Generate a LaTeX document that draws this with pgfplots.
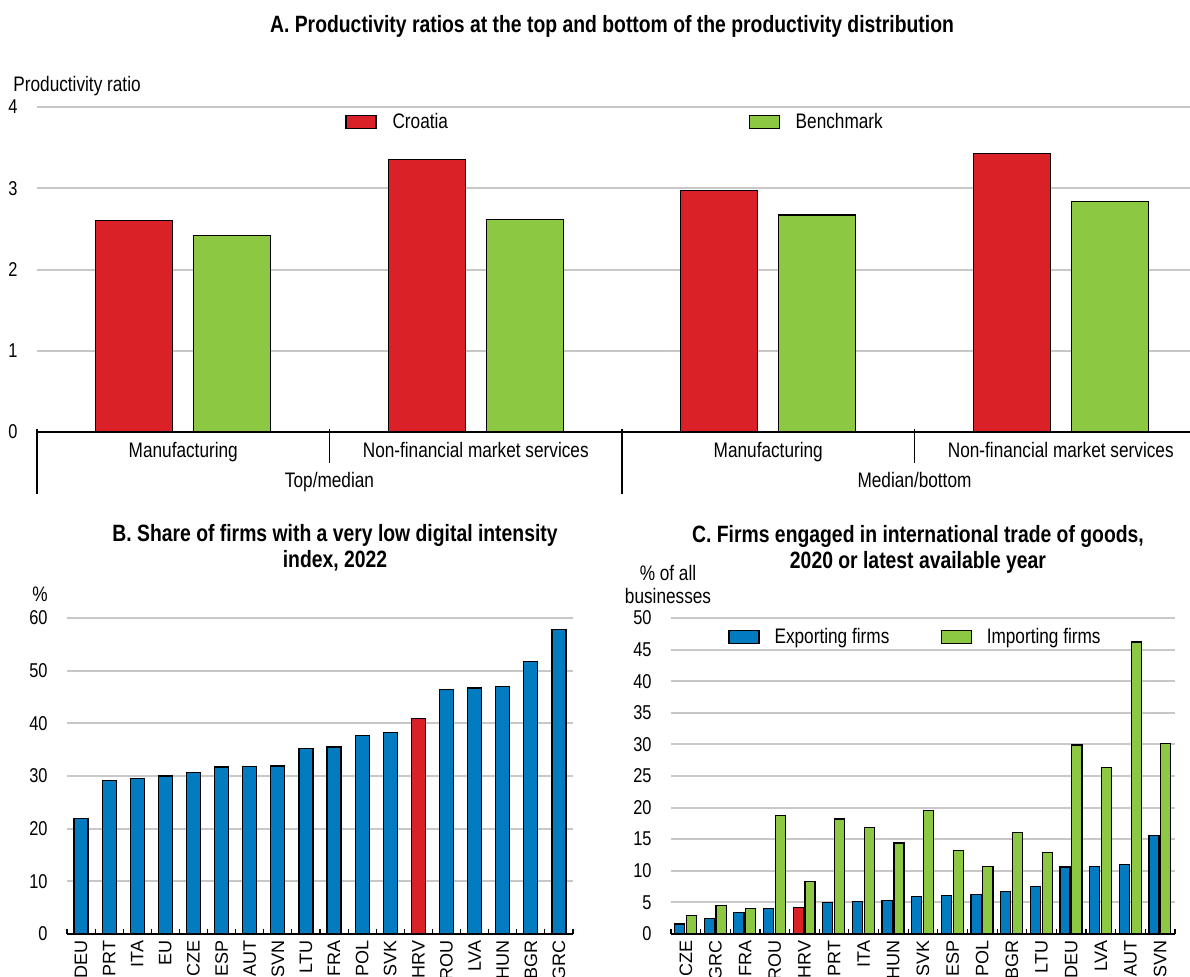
\documentclass[border=0pt]{standalone}
\usepackage{fontspec}
\setmainfont{Liberation Sans}[FakeStretch=0.82]
\newfontfamily\wide{Liberation Sans}
\usepackage{pgfplots}
\pgfplotsset{compat=1.18}

\definecolor{hrred}{RGB}{218,33,40}
\definecolor{bmgreen}{RGB}{140,200,65}
\definecolor{oblue}{RGB}{3,123,193}
\definecolor{gridgrey}{RGB}{200,200,200}

\newcommand\fs{\fontsize{10.5pt}{12.6pt}\selectfont}
\newcommand\ts{\bfseries\fontsize{11.8pt}{14pt}\selectfont}

\pgfplotsset{
  panel/.style={
    scale only axis, anchor=south west,
    axis lines*=left,
    y axis line style={draw=none},
    x axis line style={black, line width=0.75pt},
    ymajorgrids, grid style={gridgrey, line width=1pt},
    ytick style={draw=none},
    major tick length=0pt,
    /pgf/number format/assume math mode=true,
    tick label style={font=\fontsize{10pt}{12pt}\selectfont},
    yticklabel style={inner sep=0pt, xshift=-9.5pt, anchor=east},
    ybar, ymin=0,
    clip=false,
    every axis plot/.append style={draw=black, line width=0.6pt},
    legend image code/.code={\draw[##1, draw=black, line width=0.6pt] (0pt,-3.25pt) rectangle (15pt,3.25pt);},
  },
  cats/.style={
    xticklabel style={font=\wide\fontsize{9pt}{11pt}\selectfont, yshift=-3pt, rotate=90, anchor=east, inner sep=0pt},
    tick align=inside, minor tick length=2.5pt,
    minor x tick style={black, line width=0.6pt},
  },
}

\begin{document}
\begin{tikzpicture}
\useasboundingbox (0,0) rectangle (595pt,-488pt);

% titles and unit labels
\node[font=\ts, anchor=base] at (306pt,-16pt) {A. Productivity ratios at the top and bottom of the productivity distribution};
\node[font=\fs, anchor=base west, inner sep=0pt] at (6.5pt,-45.5pt) {Productivity ratio};
\node[font=\ts, anchor=base] at (167.5pt,-270.5pt) {B. Share of firms with a very low digital intensity};
\node[font=\ts, anchor=base] at (167.5pt,-283.5pt) {index, 2022};
\node[font=\fs, anchor=base east, inner sep=0pt] at (24pt,-300.5pt) {\%};
\node[font=\ts, anchor=base] at (459pt,-271pt) {C. Firms engaged in international trade of goods,};
\node[font=\ts, anchor=base] at (459pt,-284pt) {2020 or latest available year};
\node[font=\fs, anchor=base] at (334pt,-290pt) {\% of all};
\node[font=\fs, anchor=base] at (334pt,-301.5pt) {businesses};

% Panel A
\begin{axis}[panel, at={(18.5pt,-216pt)}, width=585pt, height=162.5pt,
  xmin=0, xmax=4, ymax=4, ytick={0,...,4},
  xtick={0.5,1.5,2.5,3.5},
  xticklabels={Manufacturing, Non-financial market services, Manufacturing, Non-financial market services},
  xticklabel style={anchor=base, inner sep=0pt, yshift=-12.5pt, font=\fs},
  legend columns=2,
  legend style={at={(0.2632,0.954)}, anchor=west, draw=none, fill=none, inner sep=0pt,
    nodes={inner sep=0pt, font=\fs},
    /tikz/every odd column/.append style={column sep=8pt}},
]
\addplot[fill=hrred, bar width=0.263, bar shift=-0.1675] coordinates {(0.5,2.60) (1.5,3.35) (2.5,2.97) (3.5,3.43)};
\addlegendentry{\makebox[178pt][l]{Croatia}}
\addplot[fill=bmgreen, bar width=0.263, bar shift=0.1675] coordinates {(0.5,2.42) (1.5,2.62) (2.5,2.67) (3.5,2.84)};
\addlegendentry{Benchmark}
\draw[black, line width=0.75pt] (axis cs:0,0) ++(0,1.5pt) -- ++(0,-32.5pt);
\draw[black, line width=0.75pt] (axis cs:2,0) ++(0,1.5pt) -- ++(0,-32.5pt);
\draw[black, line width=0.75pt] (axis cs:1,0) ++(0,1.5pt) -- ++(0,-17pt);
\draw[black, line width=0.75pt] (axis cs:3,0) ++(0,1.5pt) -- ++(0,-17pt);
\node[font=\fs, anchor=base] at ([yshift=-27.5pt]axis cs:1,0) {Top/median};
\node[font=\fs, anchor=base] at ([yshift=-27.5pt]axis cs:3,0) {Median/bottom};
\end{axis}

% Panel B
\begin{axis}[panel, cats, at={(33.5pt,-467pt)}, width=253pt, height=158pt,
  xmin=-0.5, xmax=17.5, ymax=60, ytick={0,10,...,60},
  xtick={0,...,17},
  xticklabels={DEU,PRT,ITA,EU,CZE,ESP,AUT,SVN,LTU,FRA,POL,SVK,HRV,ROU,LVA,HUN,BGR,GRC},
  minor xtick={-0.5,0.5,...,17.5},
]
\addplot[fill=oblue, bar width=0.5, bar shift=0] coordinates {
  (0,21.9) (1,29.1) (2,29.6) (3,30.0) (4,30.7) (5,31.7) (6,31.8) (7,31.9) (8,35.2)
  (9,35.5) (10,37.7) (11,38.3) (13,46.4) (14,46.7) (15,47.0) (16,51.8) (17,57.8)};
\addplot[fill=hrred, bar width=0.5, bar shift=0] coordinates {(12,40.9)};
\end{axis}

% Panel C
\begin{axis}[panel, cats, at={(335.5pt,-467pt)}, width=252pt, height=158pt,
  xmin=-0.5, xmax=16.5, ymax=50, ytick={0,5,...,50},
  xtick={0,...,16},
  xticklabels={CZE,GRC,FRA,ROU,HRV,PRT,ITA,HUN,SVK,ESP,POL,BGR,LTU,DEU,LVA,AUT,SVN},
  minor xtick={-0.5,0.5,...,16.5},
  legend columns=2,
  legend style={at={(0.113,0.94)}, anchor=west, draw=none, fill=none, inner sep=0pt,
    nodes={inner sep=0pt, font=\fs},
    /tikz/every odd column/.append style={column sep=7.5pt}},
]
\addplot[fill=oblue, bar width=0.34, bar shift=-0.21] coordinates {
  (0,1.6) (1,2.4) (2,3.4) (3,4.1) (5,5.0) (6,5.1) (7,5.3) (8,5.9) (9,6.1)
  (10,6.2) (11,6.7) (12,7.5) (13,10.6) (14,10.7) (15,11.0) (16,15.6)};
\addlegendentry{\makebox[83pt][l]{Exporting firms}}
\addplot[fill=bmgreen, bar width=0.34, bar shift=0.19] coordinates {
  (0,2.9) (1,4.5) (2,4.1) (3,18.7) (4,8.3) (5,18.2) (6,16.8) (7,14.4) (8,19.6)
  (9,13.2) (10,10.7) (11,16.1) (12,12.9) (13,29.9) (14,26.4) (15,46.2) (16,30.2)};
\addlegendentry{Importing firms}
\addplot[fill=hrred, bar width=0.34, bar shift=-0.21, forget plot] coordinates {(4,4.2)};
\end{axis}
\end{tikzpicture}
\end{document}
